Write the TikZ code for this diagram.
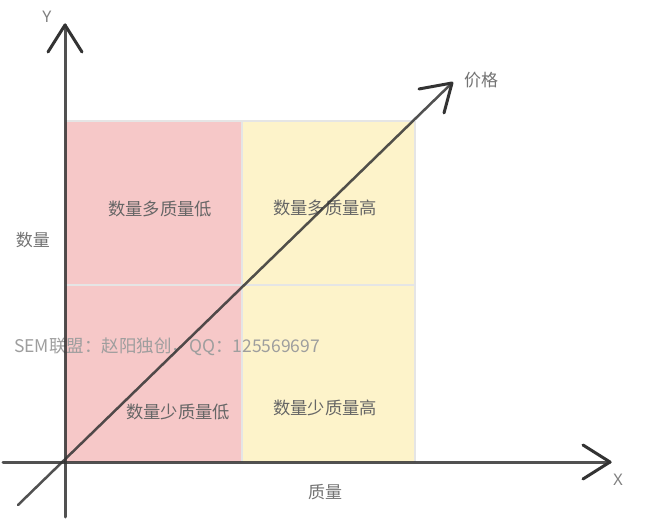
\documentclass[tikz,border=0pt]{standalone}
\usepackage{fontspec}
\newfontfamily\cjk{Noto Sans CJK SC}
\begin{document}
\begin{tikzpicture}[x=1pt,y=-1pt,
  axisline/.style={draw=black!80,line width=3pt,line cap=round,line join=round},
  gridline/.style={draw=black!10,line width=2pt},
  quadlabel/.style={font=\cjk\fontsize{17.3}{17.3}\selectfont,text=black!60,inner sep=0pt},
  axislabel/.style={font=\cjk\fontsize{17}{17}\selectfont,text=black!55,inner sep=0pt},
  letterlabel/.style={font=\fontspec{Noto Sans}\fontsize{16}{16}\selectfont,text=black!50,inner sep=0pt}]
\useasboundingbox (0,0) rectangle (645,526);
\fill[white] (0,0) rectangle (645,526);
% quadrants
\fill[fill={rgb,255:red,246;green,200;blue,200}] (65,121) rectangle (242,462);
\fill[fill={rgb,255:red,253;green,243;blue,202}] (242,121) rectangle (415,462);
\draw[gridline] (65,121) -- (415,121);
\draw[gridline] (65,285) -- (415,285);
\draw[gridline] (242,121) -- (242,462);
\draw[gridline] (415,121) -- (415,462);
% labels
\node[quadlabel] (ql1) at (160,209) {数量多质量低};
\node[quadlabel] (ql2) at (325,208) {数量多质量高};
\node[quadlabel] (ql3) at (178,412) {数量少质量低};
\node[quadlabel] (ql4) at (325,408) {数量少质量高};
\node[axislabel] (ylab) at (33,240) {数量};
\node[axislabel] (xlab) at (325,492) {质量};
\node[axislabel] (plab) at (481,80) {价格};
\node[letterlabel] (Y) at (47,17) {Y};
\node[letterlabel] (X) at (618,480) {X};
\node[font=\cjk\fontsize{17.5}{17.5}\selectfont,text=black!38,inner sep=0pt,anchor=west] (wm) at (14,347) {SEM联盟：赵阳独创，QQ：125569697};
% axes
\coordinate (yb) at (65,517);
\coordinate (yt) at (65,25);
\coordinate (xl) at (3,462);
\coordinate (xr) at (610,462);
\coordinate (dl) at (18,505);
\coordinate (dt) at (452,83);
\draw[axisline,draw opacity=0.85] (yb) -- (yt);
\draw[axisline] (48,52) -- (yt) -- (82,52);
\draw[axisline,draw opacity=0.85] (xl) -- (xr);
\draw[axisline] (583,445) -- (xr) -- (583,479);
\draw[axisline,line width=2.5pt,draw opacity=0.85] (dl) -- (dt);
\draw[axisline] (419,89) -- (dt) -- (444,113);
\end{tikzpicture}
\end{document}
